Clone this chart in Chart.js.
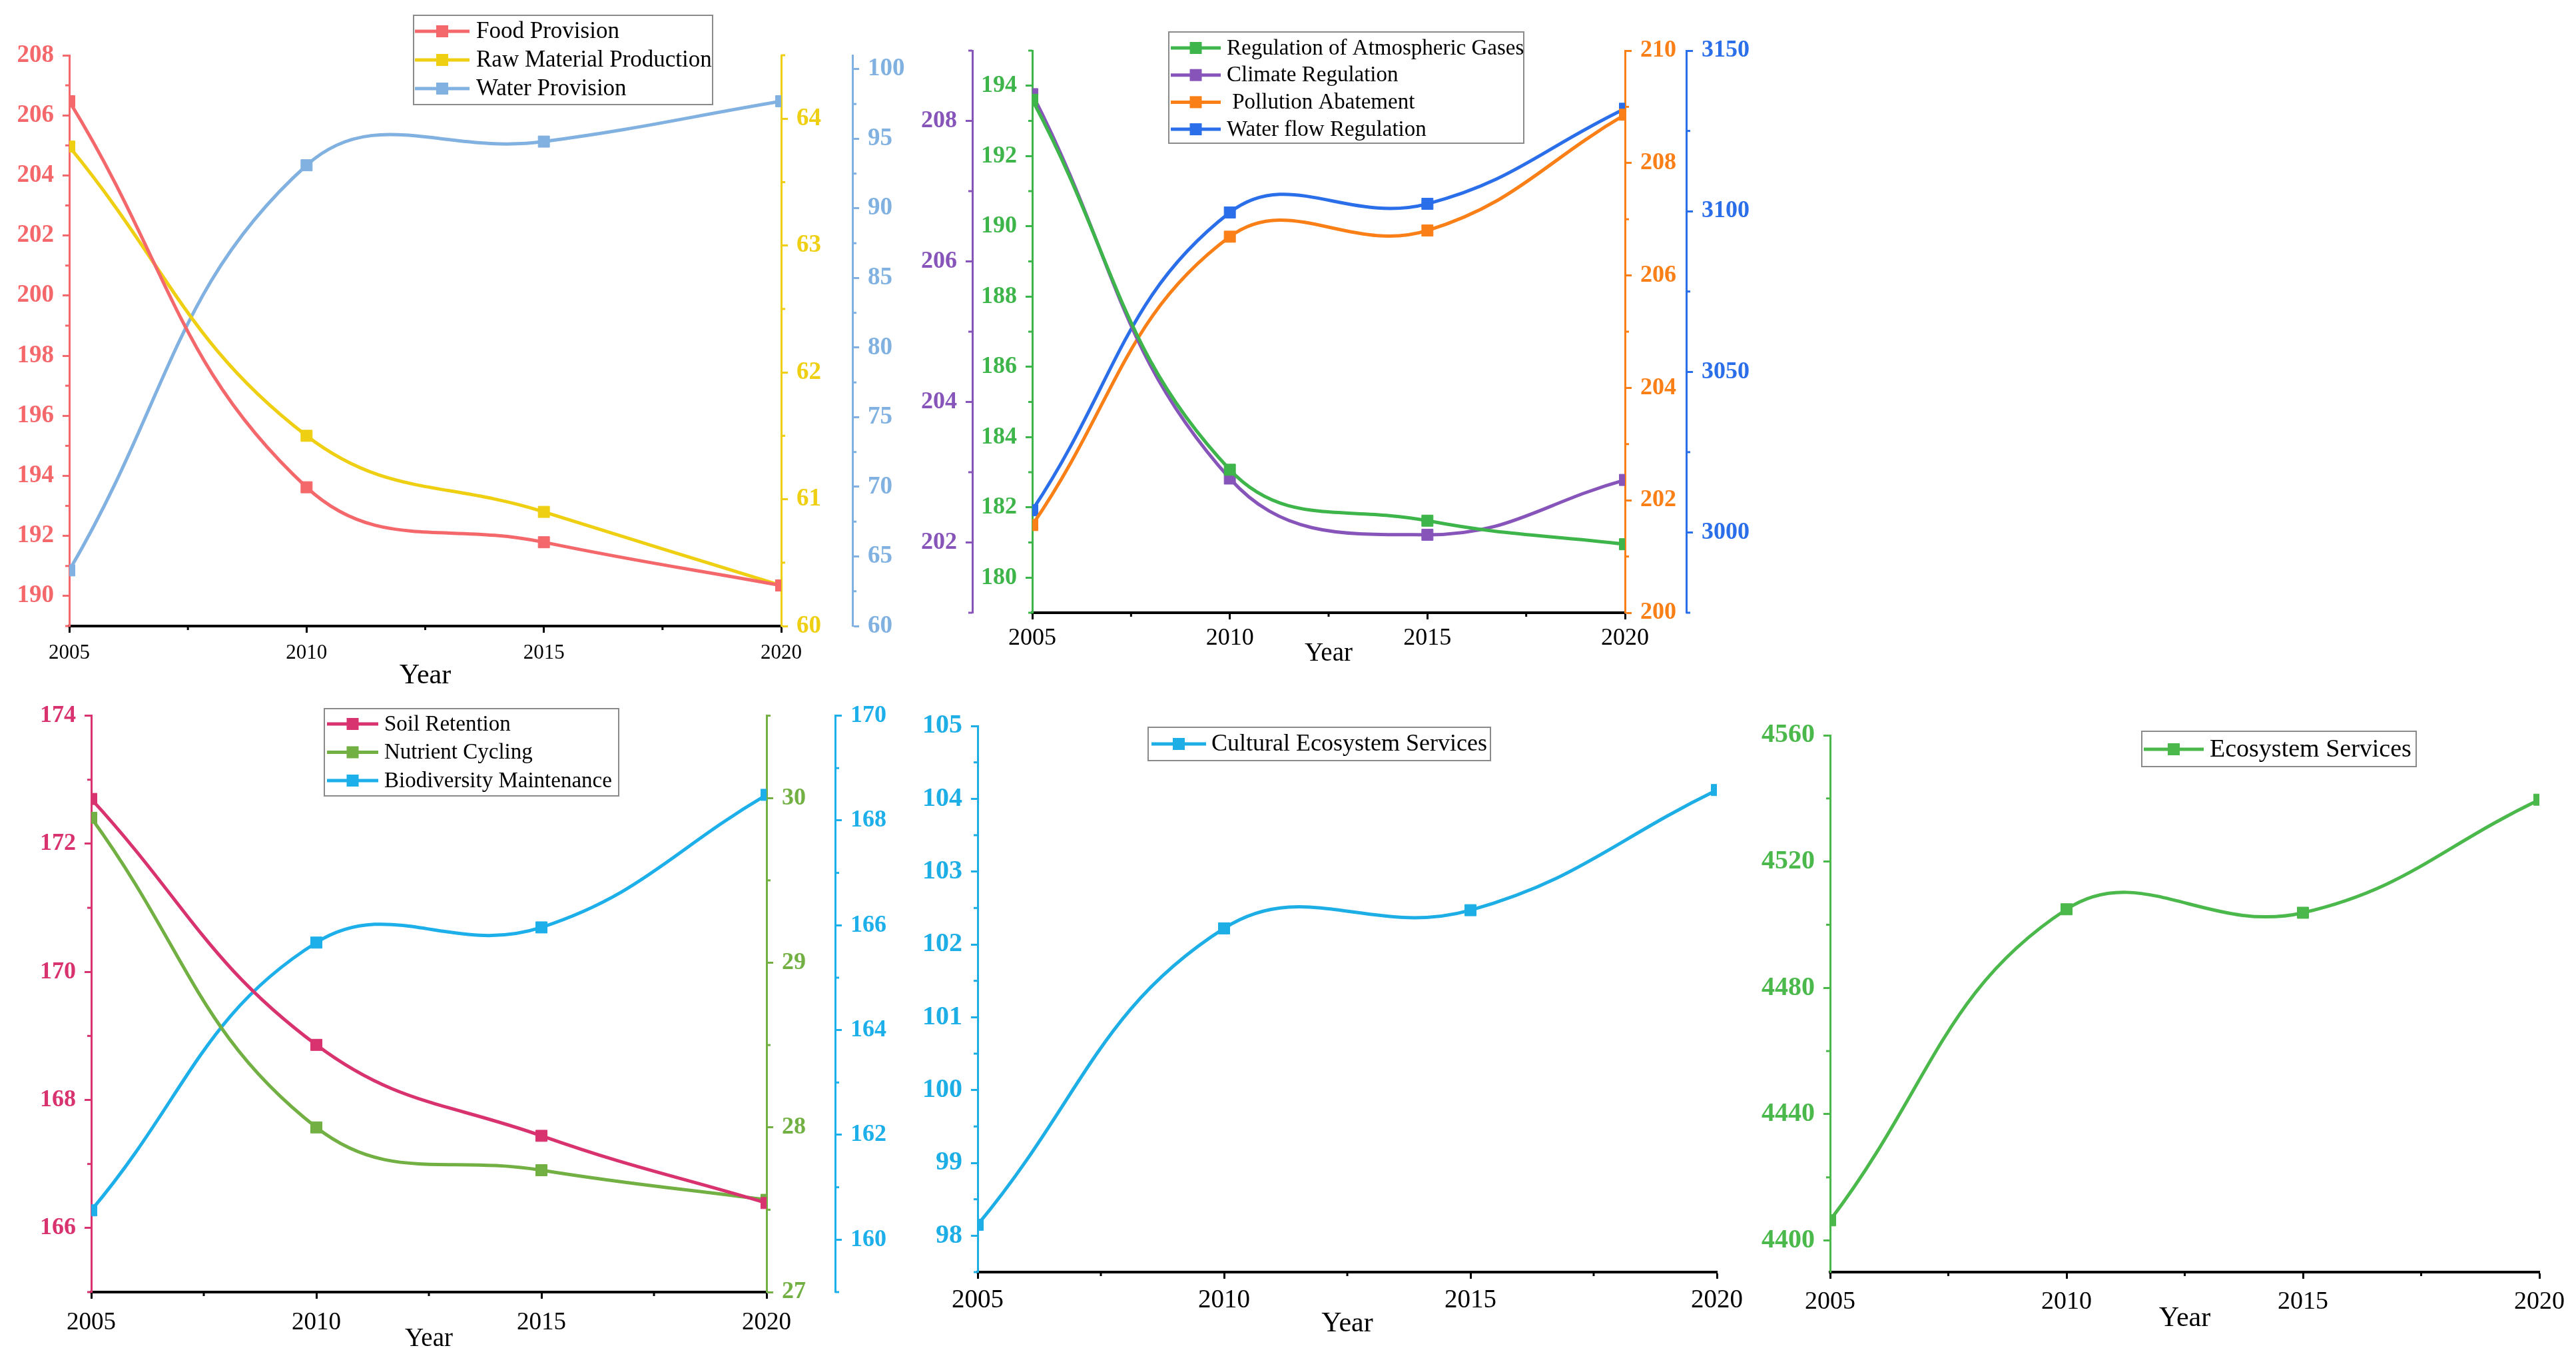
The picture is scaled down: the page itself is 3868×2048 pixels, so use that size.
<!DOCTYPE html>
<html>
<head>
<meta charset="utf-8">
<script src="https://cdn.jsdelivr.net/npm/chart.js@4.4.1/dist/chart.umd.min.js"></script>
<style>
  body { margin: 0; background: #fff; width: 3868px; height: 2048px; position: relative; overflow: hidden; }
  .panel { position: absolute; }
</style>
</head>
<body>
<div class="panel" style="left:0px;top:0px;width:1380px;height:1040px"><canvas id="c1"></canvas></div>
<div class="panel" style="left:1365px;top:0px;width:1355px;height:1005px"><canvas id="c2"></canvas></div>
<div class="panel" style="left:0px;top:1040px;width:1365px;height:1008px"><canvas id="c3"></canvas></div>
<div class="panel" style="left:1365px;top:1040px;width:1265px;height:1008px"><canvas id="c4"></canvas></div>
<div class="panel" style="left:2630px;top:1040px;width:1238px;height:1008px"><canvas id="c5"></canvas></div>
<script>
// years on the x axis
const years = [2005, 2010, 2015, 2020];

// provisioning services
const foodProvision = [206.47, 193.62, 191.79, 190.35];
const rawMaterialProduction = [63.78, 61.50, 60.90, 60.32];
const waterProvision = [64.0, 93.1, 94.8, 97.7];

// regulating services
const atmosphericGases = [193.6, 183.07, 181.62, 180.95];
const climateRegulation = [208.38, 202.91, 202.11, 202.89];
const pollutionAbatement = [201.56, 206.69, 206.80, 208.86];
const waterFlowRegulation = [3006.9, 3099.6, 3102.3, 3131.9];

// supporting services
const soilRetention = [172.70, 168.86, 167.44, 166.39];
const nutrientCycling = [29.88, 28.0, 27.74, 27.56];
const biodiversityMaintenance = [160.56, 165.67, 165.96, 168.49];

// totals
const culturalServices = [98.15, 102.22, 102.47, 104.12];
const ecosystemServices = [4406.4, 4504.9, 4503.8, 4539.6];

// axis ranges: [min, max, labelled step, minor step]
const yearAxis = [2005, 2020, 5, 2.5];
const foodAxis = [189, 208, 2, 1];
const rawAxis = [60, 64.5, 1, 0.5];
const waterAxis = [60, 101, 5, 2.5];
const gasAxis = [179, 195, 2, 1];
const climateAxis = [201, 209, 2, 1];
const pollutionAxis = [200, 210, 2, 1];
const waterFlowAxis = [2975, 3150, 50, 25];
const soilAxis = [165, 174, 2, 1];
const nutrientAxis = [27, 30.5, 1, 0.5];
const biodiversityAxis = [159, 170, 2, 1];
const culturalAxis = [97.5, 105, 1, 0.5];
const ecosystemAxis = [4390, 4560, 40, 20];

const FONT = "'Liberation Serif', 'Times New Roman', serif";
const TRANSPARENT = "rgba(0,0,0,0)";

function tickList(min, max, step) {
    const out = [];
    const start = Math.ceil(min / step - 1e-9) * step;
    for (let v = start; v <= max + 1e-9; v += step) {
        out.push({ value: +v.toFixed(4) });
    }
    return out;
}

function isMajor(v, step) {
    const r = v / step;
    return Math.abs(r - Math.round(r)) < 1e-6;
}

// y axis builder
function yAxis(spec, position, color, fontSize, width) {
    const [min, max, major, minor] = spec;
    return {
        type: "linear",
        position: position,
        min: min,
        max: max,
        afterBuildTicks: s => { s.ticks = tickList(min, max, minor); },
        afterFit: s => { s.width = width; },
        ticks: {
            color: color,
            padding: 13,
            autoSkip: false,
            maxRotation: 0,
            font: { family: FONT, size: fontSize, weight: "bold" },
            callback: v => isMajor(v, major) ? String(v) : ""
        },
        grid: {
            drawOnChartArea: false, drawTicks: true, tickLength: 10, tickWidth: 3,
            tickColor: c => (c.tick && !isMajor(c.tick.value, major)) ? TRANSPARENT : color
        },
        border: { color: color, width: 3 }
    };
}

// x axis builder
function xAxis(fontSize, labelPad, titleSize, titlePad, height) {
    const [min, max, major, minor] = yearAxis;
    return {
        type: "linear",
        position: "bottom",
        min: min,
        max: max,
        afterBuildTicks: s => { s.ticks = tickList(min, max, minor); },
        afterFit: s => { s.height = height; },
        ticks: {
            color: "#000",
            padding: labelPad,
            autoSkip: false,
            maxRotation: 0,
            font: { family: FONT, size: fontSize },
            callback: v => isMajor(v, major) ? String(v) : ""
        },
        grid: {
            drawOnChartArea: false, drawTicks: true, tickLength: 10, tickWidth: 3,
            tickColor: c => (c.tick && !isMajor(c.tick.value, major)) ? TRANSPARENT : "#000"
        },
        border: { color: "#000", width: 4 },
        title: {
            display: true,
            text: "Year",
            color: "#000",
            font: { family: FONT, size: titleSize },
            padding: { top: 0, bottom: titlePad }
        }
    };
}

function series(label, values, color, axisId) {
    return {
        label: label,
        data: years.map((x, i) => ({ x: x, y: values[i] })),
        yAxisID: axisId,
        borderColor: color,
        backgroundColor: color,
        borderWidth: 5,
        pointStyle: "rect",
        pointRadius: 12,
        pointBorderWidth: 1,
        pointBorderColor: color,
        pointBackgroundColor: color,
        tension: 0.42,
        clip: 0
    };
}

// short minor tick marks (labels are empty for minor ticks)
const minorTicks = {
    id: "minorTicks",
    afterDraw(chart) {
        const ctx = chart.ctx;
        ctx.save();
        ctx.lineWidth = 3;
        Object.values(chart.scales).forEach(scale => {
            ctx.strokeStyle = scale.options.border.color;
            scale.ticks.forEach(t => {
                if (t.label !== "") return;
                const p = scale.getPixelForValue(t.value);
                ctx.beginPath();
                if (scale.position === "left") {
                    ctx.moveTo(scale.right, p); ctx.lineTo(scale.right - 6, p);
                } else if (scale.position === "right") {
                    ctx.moveTo(scale.left, p); ctx.lineTo(scale.left + 6, p);
                } else {
                    ctx.moveTo(p, scale.top); ctx.lineTo(p, scale.top + 6);
                }
                ctx.stroke();
            });
        });
        ctx.restore();
    }
};

// legend inside a grey box, drawn from the dataset labels and colours
const boxLegend = {
    id: "boxLegend",
    afterDraw(chart, args, opts) {
        const ctx = chart.ctx;
        ctx.save();
        ctx.strokeStyle = "#8a8a8a";
        ctx.lineWidth = 2;
        ctx.strokeRect(opts.x, opts.y, opts.w, opts.h);
        ctx.font = opts.size + "px " + FONT;
        ctx.textBaseline = "middle";
        ctx.textAlign = "left";
        chart.data.datasets.forEach((ds, i) => {
            const cy = opts.first + i * opts.gap;
            ctx.strokeStyle = ds.borderColor;
            ctx.lineWidth = 5;
            ctx.beginPath();
            ctx.moveTo(opts.lineX, cy);
            ctx.lineTo(opts.lineX + opts.lineW, cy);
            ctx.stroke();
            ctx.fillStyle = ds.borderColor;
            const mid = opts.lineX + opts.lineW / 2;
            ctx.fillRect(mid - 9, cy - 9, 18, 18);
            ctx.fillStyle = "#000";
            ctx.fillText(ds.label, opts.textX, cy + 1);
        });
        ctx.restore();
    }
};

function makeChart(id, datasets, scales, padding, legend) {
    return new Chart(document.getElementById(id), {
        type: "line",
        data: { datasets: datasets },
        options: {
            responsive: true,
            maintainAspectRatio: false,
            animation: false,
            devicePixelRatio: 1,
            layout: { padding: padding },
            scales: scales,
            plugins: {
                legend: { display: false },
                tooltip: { enabled: false },
                boxLegend: legend
            }
        },
        plugins: [minorTicks, boxLegend]
    });
}

// panel 1
makeChart("c1", [
    series("Food Provision", foodProvision, "#F4686B", "yFood"),
    series("Raw Material Production", rawMaterialProduction, "#EFCF12", "yRaw"),
    series("Water Provision", waterProvision, "#80B1E0", "yWater")
], {
    x: xAxis(31, 12, 42, 0, 100),
    yFood: yAxis(foodAxis, "left", "#F4686B", 37, 104),
    yRaw: yAxis(rawAxis, "right", "#EFCF12", 37, 107),
    yWater: yAxis(waterAxis, "right", "#80B1E0", 37, 100)
}, { top: 83, left: 0, right: 0, bottom: 0 },
{ x: 621, y: 23, w: 449, h: 134, first: 47, gap: 43, lineX: 623, lineW: 82, textX: 715, size: 35 });

// panel 2
makeChart("c2", [
    series("Regulation of Atmospheric Gases", atmosphericGases, "#3EB54A", "yGas"),
    series("Climate Regulation", climateRegulation, "#8755BA", "yClimate"),
    series(" Pollution Abatement", pollutionAbatement, "#FA7F17", "yPollution"),
    series("Water flow Regulation", waterFlowRegulation, "#2A6EEA", "yWaterFlow")
], {
    x: xAxis(36, 7, 39, 0, 85),
    yGas: yAxis(gasAxis, "left", "#3EB54A", 36, 90),
    yClimate: yAxis(climateAxis, "left", "#8755BA", 36, 95),
    yPollution: yAxis(pollutionAxis, "right", "#FA7F17", 36, 92),
    yWaterFlow: yAxis(waterFlowAxis, "right", "#2A6EEA", 36, 188)
}, { top: 76, left: 0, right: 0, bottom: 0 },
{ x: 390, y: 48, w: 533, h: 167, first: 72, gap: 40.7, lineX: 393, lineW: 75, textX: 477, size: 33 });

// panel 3
makeChart("c3", [
    series("Soil Retention", soilRetention, "#D9336F", "ySoil"),
    series("Nutrient Cycling", nutrientCycling, "#72B043", "yNutrient"),
    series("Biodiversity Maintenance", biodiversityMaintenance, "#1DAFEA", "yBio")
], {
    x: xAxis(37, 14, 39, 14, 108),
    ySoil: yAxis(soilAxis, "left", "#D9336F", 36, 137),
    yNutrient: yAxis(nutrientAxis, "right", "#72B043", 36, 103),
    yBio: yAxis(biodiversityAxis, "right", "#1DAFEA", 36, 111)
}, { top: 33, left: 0, right: 0, bottom: 0 },
{ x: 487, y: 24, w: 442, h: 131, first: 47, gap: 42.5, lineX: 491, lineW: 77, textX: 577, size: 33 });

// panel 4
makeChart("c4", [
    series("Cultural Ecosystem Services", culturalServices, "#1DAEE6", "yCultural")
], {
    x: xAxis(39, 9, 42, 35, 138),
    yCultural: yAxis(culturalAxis, "left", "#1DAEE6", 40, 103)
}, { top: 50, left: 0, right: 52, bottom: 0 },
{ x: 359, y: 52, w: 514, h: 50, first: 77, gap: 0, lineX: 364, lineW: 82, textX: 454, size: 36 });

// panel 5
makeChart("c5", [
    series("Ecosystem Services", ecosystemServices, "#4BB84B", "yEco")
], {
    x: xAxis(38, 12, 42, 43, 138),
    yEco: yAxis(ecosystemAxis, "left", "#4BB84B", 40, 118)
}, { top: 64, left: 0, right: 55, bottom: 0 },
{ x: 586, y: 58, w: 412, h: 53, first: 85, gap: 0, lineX: 589, lineW: 90, textX: 688, size: 38 });
</script>
</body>
</html>
